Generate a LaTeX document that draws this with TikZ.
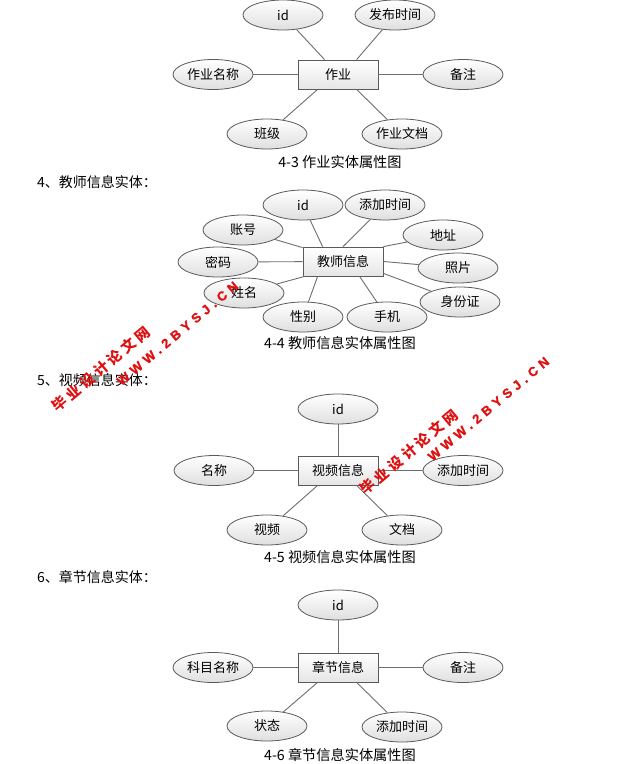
\documentclass[tikz,border=0pt]{standalone}
\usepackage{fontspec}
\setmainfont{Noto Sans CJK SC}
\newfontfamily\wmcjk[LetterSpace=24]{Noto Sans CJK SC}
\newfontfamily\wmlat[LetterSpace=35, BoldFeatures={FakeBold=1.2}]{Liberation Sans}
\usetikzlibrary{shapes.geometric}
\definecolor{bordergray}{HTML}{5A5A5A}
\definecolor{linegray}{HTML}{6E6E6E}
\definecolor{wmred}{HTML}{E01010}
\begin{document}
\begin{tikzpicture}[x=1pt,y=-1pt,
  attr/.style={ellipse, draw=bordergray, line width=0.8pt, top color=white, bottom color=gray!25, minimum width=80pt, minimum height=30pt, inner sep=0pt, font=\fontsize{13}{15}\selectfont},
  ent/.style={rectangle, draw=bordergray, line width=0.8pt, top color=white, bottom color=gray!20, minimum width=80pt, minimum height=29pt, inner sep=0pt, font=\fontsize{13}{15}\selectfont},
  link/.style={draw=linegray, line width=0.9pt},
  captxt/.style={font=\fontsize{14.2}{16}\selectfont, inner sep=0pt},
  headtxt/.style={font=\fontsize{14}{16}\selectfont, anchor=west, inner sep=0pt},
  wmc/.style={text=wmred, rotate=40, inner sep=0pt, font=\wmcjk\bfseries\fontsize{14.5}{16}\selectfont},
  wml/.style={text=wmred, rotate=40, inner sep=0pt, font=\wmlat\bfseries\fontsize{13}{14}\selectfont}]
\useasboundingbox[fill=white] (0,0) rectangle (617,764);

% ---- 4-3 作业
\node[ent] (zy) at (338,74.5) {作业};
\node[attr] (zyid) at (283,15) {id};
\node[attr] (zyfb) at (395,15) {发布时间};
\node[attr] (zymc) at (213,74.5) {作业名称};
\node[attr] (zybz) at (463,74.5) {备注};
\node[attr] (zybj) at (267,134) {班级};
\node[attr] (zywd) at (402,134) {作业文档};
\node[captxt] (cap3) at (340,162) {4-3 作业实体属性图};
\draw[link] (zyid) -- ([xshift=27pt]zy.north west);
\draw[link] (zyfb) -- ([xshift=59pt]zy.north west);
\draw[link] (zymc) -- (zy);
\draw[link] (zybz) -- (zy);
\draw[link] (zybj) -- ([xshift=20pt]zy.south west);
\draw[link] (zywd) -- ([xshift=59pt]zy.south west);

% ---- 4-4 教师信息
\node[headtxt] (h4) at (37,182) {4、教师信息实体：};
\node[ent] (js) at (343,261.5) {教师信息};
\node[attr] (jsid) at (303,205) {id};
\node[attr] (jstj) at (385,205) {添加时间};
\node[attr] (jszh) at (243,230) {账号};
\node[attr] (jsdz) at (443,235) {地址};
\node[attr] (jsmm) at (218,262) {密码};
\node[attr] (jszp) at (458,268) {照片};
\node[attr] (jsxm) at (244,293) {姓名};
\node[attr] (jssf) at (460,302) {身份证};
\node[attr] (jsxb) at (303,317) {性别};
\node[attr] (jssj) at (387,317) {手机};
\node[captxt] (cap4) at (340,343) {4-4 教师信息实体属性图};
\draw[link] (jsid) -- ([xshift=20pt]js.north west);
\draw[link] (jstj) -- (js.north);
\draw[link] (jszh) -- ([yshift=-1pt]js.north west);
\draw[link] (jsdz) -- (js.north east);
\draw[link] (jsmm) -- (js);
\draw[link] (jszp) -- (js.east);
\draw[link] (jsxm) -- ([xshift=2pt]js.south west);
\draw[link] (jssf) -- ([yshift=3pt]js.south east);
\draw[link] (jsxb) -- ([xshift=15pt]js.south west);
\draw[link] (jssj) -- ([xshift=57pt]js.south west);

% ---- 4-5 视频信息
\node[headtxt] (h5) at (37,380) {5、视频信息实体：};
\node[ent] (sp) at (338,470.5) {视频信息};
\node[attr] (spid) at (338,409) {id};
\node[attr] (spmc) at (214,470.5) {名称};
\node[attr] (sptj) at (463,470.5) {添加时间};
\node[attr] (spsp) at (267,530) {视频};
\node[attr] (spwd) at (402,530) {文档};
\node[captxt] (cap5) at (340,557) {4-5 视频信息实体属性图};
\draw[link] (spid) -- (sp);
\draw[link] (spmc) -- (sp);
\draw[link] (sptj) -- (sp);
\draw[link] (spsp) -- ([xshift=20pt]sp.south west);
\draw[link] (spwd) -- ([xshift=59pt]sp.south west);

% ---- 4-6 章节信息
\node[headtxt] (h6) at (37,577) {6、章节信息实体：};
\node[ent] (zj) at (338,667.5) {章节信息};
\node[attr] (zjid) at (338,605) {id};
\node[attr] (zjkm) at (213,667.5) {科目名称};
\node[attr] (zjbz) at (463,667.5) {备注};
\node[attr] (zjzt) at (267,726) {状态};
\node[attr] (zjtj) at (402,727) {添加时间};
\node[captxt] (cap6) at (340,755) {4-6 章节信息实体属性图};
\draw[link] (zjid) -- (zj);
\draw[link] (zjkm) -- (zj);
\draw[link] (zjbz) -- (zj);
\draw[link] (zjzt) -- ([xshift=20pt]zj.south west);
\draw[link] (zjtj) -- ([xshift=59pt]zj.south west);

% ---- watermarks
\node[wmc] (wm1a) at (101,369) {毕业设计论文网};
\node[wml] (wm1b) at (177.5,333.5) {WWW.2BYSJ.CN};
\node[wmc] (wm2a) at (409,452) {毕业设计论文网};
\node[wml] (wm2b) at (488.5,409) {WWW.2BYSJ.CN};
\end{tikzpicture}
\end{document}
